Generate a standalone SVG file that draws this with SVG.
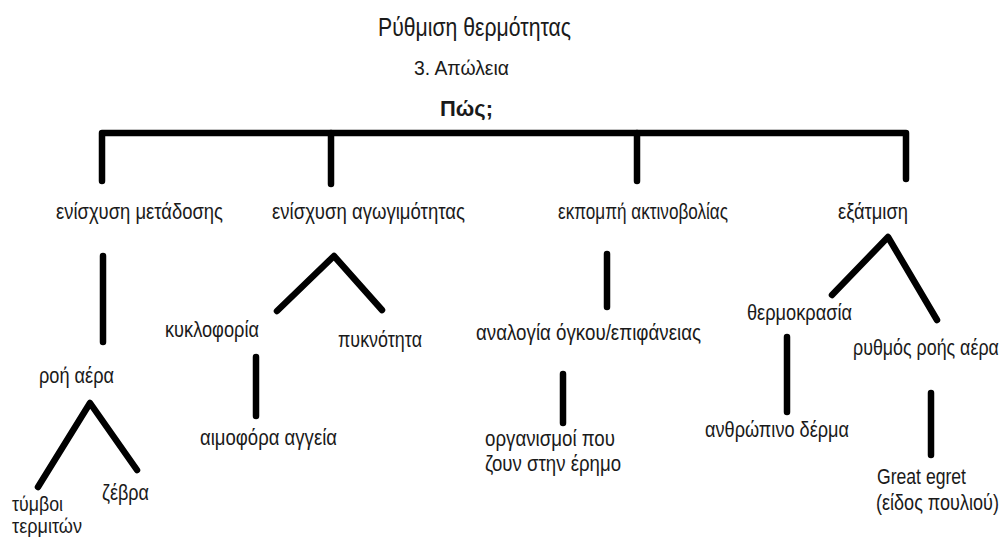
<svg xmlns="http://www.w3.org/2000/svg" width="1005" height="538" viewBox="0 0 1005 538">
<style>
text{font-family:"Liberation Sans","DejaVu Sans",sans-serif;fill:#1a1a1a;}
.t{font-size:26px;}
.s{font-size:20px;}
.b{font-size:22px;font-weight:bold;}
.l{font-size:21.5px;}
.m{font-size:20px;}
.c{fill:none;stroke:#000;stroke-width:6.5;stroke-linecap:round;stroke-linejoin:round;}
</style>
<rect width="1005" height="538" fill="#fff"/>
<g id="connectors">
<path class="c" d="M102,181 V133 H906 V179"/>
<path class="c" d="M331,133 V184"/>
<path class="c" d="M637,133 V181"/>
<path class="c" d="M103,256 V342"/>
<path class="c" d="M38,487 L90,403 L137,470"/>
<path class="c" d="M277,311 L334,256 L382,310"/>
<path class="c" d="M256,357 V416"/>
<path class="c" d="M607,254 V307"/>
<path class="c" d="M563,374 V423"/>
<path class="c" d="M832,295 L888,237 L937,320"/>
<path class="c" d="M787,337 V412"/>
<path class="c" d="M931,393 V455"/>
</g>
<g id="title"><text class="t" x="378" y="36" textLength="193" lengthAdjust="spacingAndGlyphs">Ρύθμιση θερμότητας</text></g>
<g id="subtitle"><text class="s" x="414" y="75" textLength="95" lengthAdjust="spacingAndGlyphs">3. Απώλεια</text></g>
<g id="how"><text class="b" x="440" y="116" textLength="53" lengthAdjust="spacingAndGlyphs">Πώς;</text></g>
<g id="n-metadosi"><text class="l" x="56" y="219" textLength="167" lengthAdjust="spacingAndGlyphs">ενίσχυση μετάδοσης</text></g>
<g id="n-agogimotita"><text class="l" x="272" y="219" textLength="193" lengthAdjust="spacingAndGlyphs">ενίσχυση αγωγιμότητας</text></g>
<g id="n-ektinovolia"><text class="l" x="558" y="219" textLength="170" lengthAdjust="spacingAndGlyphs">εκπομπή ακτινοβολίας</text></g>
<g id="n-exatmisi"><text class="l" x="838" y="219" textLength="70" lengthAdjust="spacingAndGlyphs">εξάτμιση</text></g>
<g id="n-roi"><text class="l" x="39" y="383" textLength="75" lengthAdjust="spacingAndGlyphs">ροή αέρα</text></g>
<g id="n-tymvoi"><text class="m" x="12" y="511" textLength="51" lengthAdjust="spacingAndGlyphs">τύμβοι</text><text class="m" x="12" y="533" textLength="70" lengthAdjust="spacingAndGlyphs">τερμιτών</text></g>
<g id="n-zevra"><text class="l" x="102" y="500" textLength="47" lengthAdjust="spacingAndGlyphs">ζέβρα</text></g>
<g id="n-kykloforia"><text class="l" x="165" y="337" textLength="94" lengthAdjust="spacingAndGlyphs">κυκλοφορία</text></g>
<g id="n-pyknotita"><text class="l" x="338" y="347" textLength="84" lengthAdjust="spacingAndGlyphs">πυκνότητα</text></g>
<g id="n-aimofora"><text class="l" x="200" y="445" textLength="137" lengthAdjust="spacingAndGlyphs">αιμοφόρα αγγεία</text></g>
<g id="n-analogia"><text class="l" x="476" y="340" textLength="225" lengthAdjust="spacingAndGlyphs">αναλογία όγκου/επιφάνειας</text></g>
<g id="n-organismoi"><text class="l" x="485" y="446" textLength="130" lengthAdjust="spacingAndGlyphs">οργανισμοί που</text><text class="l" x="485" y="471" textLength="136" lengthAdjust="spacingAndGlyphs">ζουν στην έρημο</text></g>
<g id="n-thermokrasia"><text class="l" x="747" y="320" textLength="105" lengthAdjust="spacingAndGlyphs">θερμοκρασία</text></g>
<g id="n-rythmos"><text class="l" transform="translate(853,355) scale(0.83,1)" x="0" y="0">ρυθμός ροής αέρα</text></g>
<g id="n-derma"><text class="l" x="705" y="437" textLength="144" lengthAdjust="spacingAndGlyphs">ανθρώπινο δέρμα</text></g>
<g id="n-egret"><text class="l" x="877" y="484" textLength="89" lengthAdjust="spacingAndGlyphs">Great egret</text><text class="l" transform="translate(876,510) scale(0.84,1)" x="0" y="0">(είδος πουλιού)</text></g>
</svg>
